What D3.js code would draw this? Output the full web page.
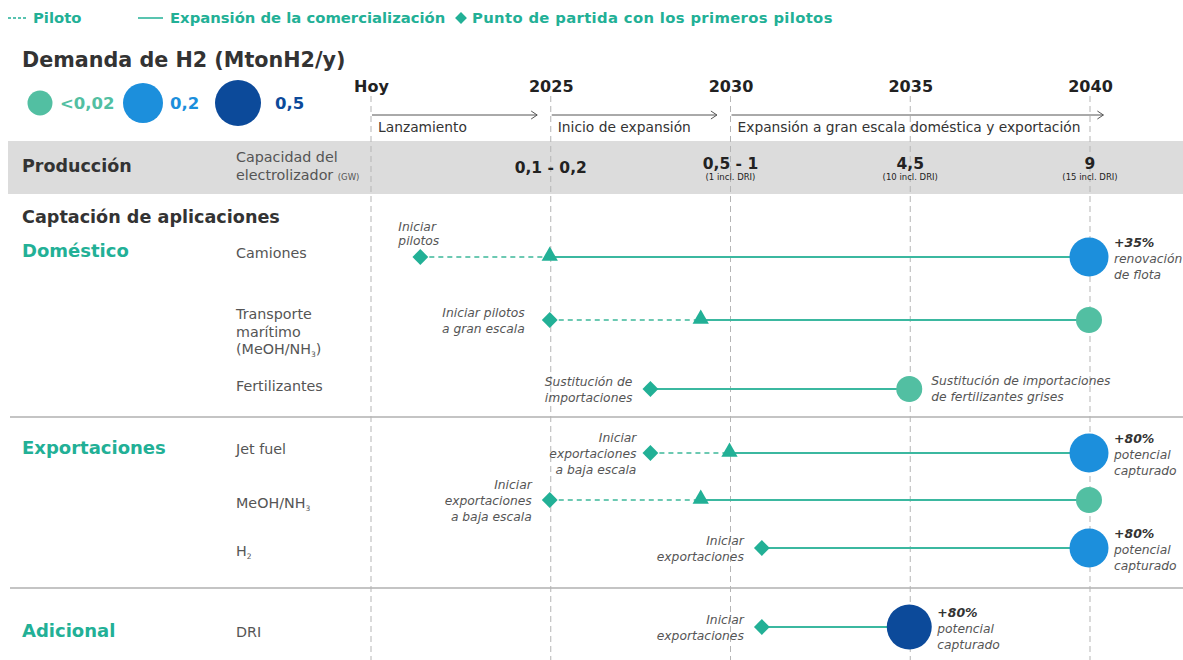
<!DOCTYPE html>
<html><head><meta charset="utf-8">
<script src="https://cdn.jsdelivr.net/npm/d3@7"></script>
<style>
html,body{margin:0;padding:0;background:#fff;}
svg{display:block;font-family:"DejaVu Sans",sans-serif;}
</style></head>
<body><svg id="chart" width="1183" height="660"></svg>
<script>
// ---------- DATA ----------
const tickYears = [2020, 2025, 2030, 2035, 2040];
const tickLabels = ["Hoy", "2025", "2030", "2035", "2040"];
const phaseStart = [2020, 2025, 2030];
const phaseEnd = [2024.65, 2029.65, 2040.4];
const phaseLabels = ["Lanzamiento", "Inicio de expansión", "Expansión a gran escala doméstica y exportación"];
const prodYears = [2025, 2030, 2035, 2040];
const prodValues = ["0,1 - 0,2", "0,5 - 1", "4,5", "9"];
const prodNotes = ["", "(1 incl. DRI)", "(10 incl. DRI)", "(15 incl. DRI)"];
const groupNames = ["Doméstico", "Exportaciones", "Adicional"];
const rows = ["Camiones", "Transporte marítimo (MeOH/NH₃)", "Fertilizantes", "Jet fuel", "MeOH/NH₃", "H₂", "DRI"];
const rowLabelLines = [["Camiones"], ["Transporte", "marítimo", "(MeOH/NH₃)"], ["Fertilizantes"], ["Jet fuel"], ["MeOH/NH₃"], ["H₂"], ["DRI"]];
const rowGroup = ["Doméstico", "Doméstico", "Doméstico", "Exportaciones", "Exportaciones", "Exportaciones", "Adicional"];
const startYear = [2021.4, 2025, 2027.8, 2027.8, 2025, 2030.9, 2030.9];
const pilotEndYear = [2025, 2029.2, null, 2030, 2029.2, null, null];
const endYear = [2040, 2040, 2035, 2040, 2040, 2040, 2035];
const demand = [0.2, 0.02, 0.02, 0.2, 0.02, 0.2, 0.5];
const startNotes = [["Iniciar", "pilotos"], ["Iniciar pilotos", "a gran escala"], ["Sustitución de", "importaciones"],
  ["Iniciar", "exportaciones", "a baja escala"], ["Iniciar", "exportaciones", "a baja escala"], ["Iniciar", "exportaciones"], ["Iniciar", "exportaciones"]];
const endNotes = [["+35%", "renovación", "de flota"], [], ["Sustitución de importaciones", "de fertilizantes grises"],
  ["+80%", "potencial", "capturado"], [], ["+80%", "potencial", "capturado"], ["+80%", "potencial", "capturado"]];
const demandLevels = [0.02, 0.2, 0.5];
const demandLabels = ["<0,02", "0,2", "0,5"];

// ---------- STYLE / LAYOUT ----------
const TEAL = "#22b096", TEAL_C = "#52bfa2", BLUE = "#1c8fdc", NAVY = "#0c4a9a";
const DARK = "#333", GREY = "#555";
const labelShift = [-4, 0, -3, -4, 3, 3, 5];
const legX = [40, 143, 238], legLabelX = [60, 170, 275];

const svg = d3.select("#chart");
const x = d3.scaleLinear().domain([2020, 2040]).range([370, 1089]);
const y = d3.scaleOrdinal().domain(rows).range([257, 320, 389, 453, 500, 548, 627]);
const rScale = d3.scaleOrdinal().domain(demandLevels).range([13, 20, 23]);
const cScale = d3.scaleOrdinal().domain(demandLevels).range([TEAL_C, BLUE, NAVY]);
const groupY = d3.scaleOrdinal().domain(groupNames).range([251, 448, 631]);
const diamond = size => d3.symbol(d3.symbolSquare, size)();

// top legend
const lg = svg.append("g");
lg.append("line").attr("x1", 8).attr("x2", 28).attr("y1", 18).attr("y2", 18)
  .attr("stroke", TEAL).attr("stroke-width", 1.5).attr("stroke-dasharray", "3,2");
lg.append("text").attr("x", 33).attr("y", 23).text("Piloto");
lg.append("line").attr("x1", 138).attr("x2", 163).attr("y1", 18).attr("y2", 18)
  .attr("stroke", TEAL).attr("stroke-width", 1.5);
lg.append("text").attr("x", 170).attr("y", 23).text("Expansión de la comercialización");
lg.append("path").attr("d", diamond(70)).attr("transform", "translate(461,18) rotate(45)").attr("fill", TEAL);
lg.append("text").attr("x", 472).attr("y", 23).attr("letter-spacing", 0.35).text("Punto de partida con los primeros pilotos");
lg.selectAll("text").attr("font-size", 14.8).attr("font-weight", "bold").attr("fill", TEAL);

// title
svg.append("text").attr("x", 22).attr("y", 67).attr("font-size", 20.7).attr("font-weight", "bold")
  .attr("fill", DARK).text("Demanda de H2 (MtonH2/y)");

// size legend
const sl = svg.append("g");
demandLevels.forEach((d, i) => {
  sl.append("circle").attr("cx", legX[i]).attr("cy", 103).attr("r", rScale(d) - (i === 0 ? 0.5 : 0)).attr("fill", cScale(d));
  sl.append("text").attr("x", legLabelX[i]).attr("y", 109).attr("font-size", 16.5).attr("font-weight", "bold")
    .attr("fill", i === 0 ? TEAL_C : cScale(d)).text(demandLabels[i]);
});

// production band
svg.append("rect").attr("x", 8).attr("y", 141).attr("width", 1175).attr("height", 53).attr("fill", "#dcdcdc");

// separators
[417, 588].forEach(yy => svg.append("line").attr("x1", 10).attr("x2", 1183).attr("y1", yy).attr("y2", yy)
  .attr("stroke", "#c4c4c4").attr("stroke-width", 2));

// vertical dashed gridlines
svg.append("g").selectAll("line").data(tickYears).join("line")
  .attr("x1", d => x(d) + 1).attr("x2", d => x(d) + 1).attr("y1", 96).attr("y2", 660)
  .attr("stroke", "#b5b5b5").attr("stroke-width", 1).attr("stroke-dasharray", "6,4");

// axis tick labels
const axis = d3.axisTop(x).tickValues(tickYears).tickFormat((d, i) => tickLabels[i]).tickSize(0).tickPadding(0);
const ag = svg.append("g").attr("transform", "translate(1,92)").call(axis);
ag.select(".domain").remove();
ag.selectAll("text").attr("font-family", "DejaVu Sans").attr("font-size", 16).attr("font-weight", "bold").attr("fill", "#222");

// phase arrows
const ph = svg.append("g");
phaseStart.forEach((s, i) => {
  const x1 = x(s) + 2, x2 = x(phaseEnd[i]);
  ph.append("line").attr("x1", x1).attr("x2", x2).attr("y1", 115).attr("y2", 115).attr("stroke", "#555").attr("stroke-width", 1);
  ph.append("path").attr("d", `M${x2 - 6},${111}L${x2},${115}L${x2 - 6},${119}`).attr("fill", "none").attr("stroke", "#555").attr("stroke-width", 1);
  ph.append("text").attr("x", x1 + 6).attr("y", 132).attr("font-size", 13.8).attr("fill", DARK).text(phaseLabels[i]);
});

// production row
svg.append("text").attr("x", 22).attr("y", 172).attr("font-size", 17.5).attr("font-weight", "bold").attr("fill", DARK).text("Producción");
svg.append("text").attr("x", 236).attr("y", 162).attr("font-size", 14.3).attr("fill", GREY).text("Capacidad del");
const el = svg.append("text").attr("x", 236).attr("y", 180).attr("font-size", 14.3).attr("fill", GREY);
el.append("tspan").text("electrolizador ");
el.append("tspan").attr("font-size", 8.5).text("(GW)");
prodYears.forEach((yr, i) => {
  const hasNote = prodNotes[i] !== "";
  svg.append("text").attr("x", x(yr) + 1).attr("y", hasNote ? 169 : 173).attr("text-anchor", "middle")
    .attr("font-size", 15.5).attr("font-weight", "bold").attr("fill", "#222").text(prodValues[i]);
  if (hasNote) svg.append("text").attr("x", x(yr) + 1).attr("y", 180).attr("text-anchor", "middle")
    .attr("font-size", 8.5).attr("fill", "#222").text(prodNotes[i]);
});

// section headings
svg.append("text").attr("x", 22).attr("y", 223).attr("font-size", 17.6).attr("font-weight", "bold").attr("fill", DARK).text("Captación de aplicaciones");
svg.append("g").selectAll("text").data(groupNames).join("text")
  .attr("x", 22).attr("y", d => groupY(d) + 6).attr("font-size", 18).attr("font-weight", "bold").attr("fill", TEAL).text(d => d);

// row labels
rows.forEach((r, i) => {
  const lines = rowLabelLines[i];
  const t = svg.append("text").attr("x", 236).attr("font-size", 14.3).attr("fill", GREY);
  const y0 = lines.length === 1 ? y(r) + labelShift[i] : 314;
  lines.forEach((ln, j) => {
    const ts = t.append("tspan").attr("x", 236).attr("y", y0 + j * 17.5 + 5);
    const m = ln.match(/^(.*?)([₃₂])(.*)$/);
    if (m) {
      ts.append("tspan").text(m[1]);
      ts.append("tspan").attr("font-size", 7.5).attr("dy", 3).text(m[2] === "₃" ? "3" : "2");
      if (m[3]) ts.append("tspan").attr("dy", -3).text(m[3]);
    } else ts.text(ln);
  });
});

// timelines
const tl = svg.append("g");
const NOTE = 12.3;
rows.forEach((r, i) => {
  const yy = y(r);
  const xs = x(startYear[i]), xe = x(endYear[i]);
  const xp = pilotEndYear[i] != null ? x(pilotEndYear[i]) : xs;
  if (pilotEndYear[i] != null) {
    tl.append("line").attr("x1", xs).attr("x2", xp).attr("y1", yy).attr("y2", yy)
      .attr("stroke", "#6cc9b2").attr("stroke-width", 2).attr("stroke-dasharray", "5,4");
  }
  tl.append("line").attr("x1", xp).attr("x2", xe).attr("y1", yy).attr("y2", yy).attr("stroke", "#3bb8a0").attr("stroke-width", 2);
  tl.append("path").attr("d", diamond(125)).attr("transform", `translate(${xs},${yy}) rotate(45)`).attr("fill", TEAL);
  if (pilotEndYear[i] != null) {
    tl.append("path").attr("d", d3.symbol(d3.symbolTriangle, 115)()).attr("transform", `translate(${xp},${yy - 1})`).attr("fill", TEAL);
  }
  tl.append("circle").attr("cx", xe).attr("cy", yy).attr("r", rScale(demand[i]) - (demand[i] === 0.02 ? 0 : 0.5)).attr("fill", cScale(demand[i]));

  // start notes
  const sn = startNotes[i];
  if (sn.length) {
    if (i === 0) {
      sn.forEach((ln, j) => tl.append("text").attr("x", xs - 22).attr("y", yy - 26 + j * 14)
        .attr("font-size", NOTE).attr("font-style", "italic").attr("fill", GREY).text(ln));
    } else {
      const off = i === 1 ? 25 : (i === 3 ? 14 : 18);
      sn.forEach((ln, j) => tl.append("text").attr("x", xs - off)
        .attr("y", yy + (j - (sn.length - 1) / 2) * 16 + 5)
        .attr("text-anchor", "end").attr("font-size", NOTE).attr("font-style", "italic").attr("fill", GREY).text(ln));
    }
  }
  // end notes
  const en = endNotes[i];
  if (en.length) {
    const r0 = rScale(demand[i]);
    const ex = xe + r0 + (en[0].startsWith("+") ? 5 : 9);
    en.forEach((ln, j) => {
      const bold = j === 0 && ln.startsWith("+");
      tl.append("text").attr("x", ex).attr("y", yy + (j - (en.length - 1) / 2) * 16 + (en.length === 3 ? 6 : 4))
        .attr("font-size", bold ? 12.5 : NOTE).attr("font-style", "italic").attr("font-weight", bold ? "bold" : "normal")
        .attr("fill", bold ? DARK : GREY).text(ln);
    });
  }
});
</script></body></html>
